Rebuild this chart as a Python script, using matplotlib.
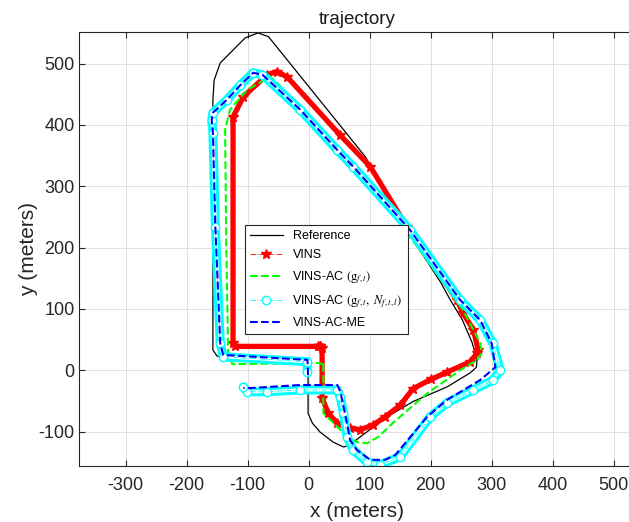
import matplotlib.pyplot as plt
import numpy as np

plt.rcParams['font.family'] = ['Liberation Sans', 'DejaVu Sans']
plt.rcParams['mathtext.fontset'] = 'stix'
plt.rcParams['axes.unicode_minus'] = False

# Reference trajectory
ref_x = [-1, -1, 6, 19, 40, 57, 65, 84, 125, 171, 227, 265, 275, 276, 268, 252, 232, 216,
         150, 93, -66, -83, -104, -145, -155, -157, -157, -150, -129, -1]
ref_y = [12, -70, -86, -101, -117, -125, -123, -109, -78, -51, -27, -4, 5, 17, 45, 82, 115, 144,
         245, 348, 544, 550, 542, 501, 473, 441, 33, 23, 20, 14]

# VINS
vins_x = [19, 22, 22, 32, 47, 68, 84, 106, 125, 150, 171, 200, 227, 265, 276, 278, 270, 253,
          243, 161, 101, 52, -35, -52, -68, -107, -124, -124, -120, 16, 19]
vins_y = [40, 36, -45, -70, -86, -94, -97, -89, -76, -57, -30, -15, -3, 14, 28, 33, 66, 93,
          115, 234, 332, 383, 478, 487, 482, 446, 413, 44, 39, 39, 40]

# VINS-AC (g)
ac_x = [24, 24, 47, 63, 79, 96, 115, 139, 194, 248, 276, 284, 281, 270, 253, 150, 68, -30,
        -52, -63, -101, -129, -137, -135, -132, -125, 16, 24]
ac_y = [10, -70, -92, -109, -117, -119, -108, -85, -38, 0, 17, 28, 45, 66, 98, 240, 338, 446,
        469, 479, 457, 425, 392, 200, 28, 10, 12, 10]

# VINS-AC (g, N)
acn_x = [-2.5, -2, -140, -145, -153, -157, -159, -157, -134, -112, -91, -76, -14, 47, 73, 166,
         248, 281, 302, 314, 302, 270, 227, 199, 150, 117, 96, 73, 63, 57, 52, 47, -14, -68,
         -101, -107]
acn_y = [-3, 14, 22, 44, 234, 387, 408, 420, 441, 465, 485, 482, 425, 359, 332, 229,
         115, 82, 44, 0, -16, -32, -53, -76, -141, -154, -150, -130, -109, -70, -44, -32, -32, -35,
         -35, -27]

# VINS-AC-ME
me_x = [-1, -2, -140, -145, -153, -157, -159, -157, -134, -112, -91, -76, -14, 47, 73, 166,
        248, 281, 300, 306, 281, 227, 194, 142, 125, 101, 79, 68, 60, 52, 47, -14, -96, -107]
me_y = [-8, 17, 25, 44, 234, 387, 408, 420, 441, 465, 485, 482, 425, 359, 332, 229,
        115, 82, 44, 5, -16, -48, -76, -138, -146, -146, -130, -114, -73, -35, -24, -24, -29, -29]

fig = plt.figure(figsize=(6.29, 5.22), dpi=100)
ax = fig.add_axes([0.1261, 0.1073, 0.8835, 0.8308])

h_ref, = ax.plot(ref_x, ref_y, 'k-', lw=0.9, label='Reference')

# dense star trail look
ax.plot(vins_x, vins_y, color='r', lw=3.8, solid_joinstyle='round', solid_capstyle='round')
h_vins, = ax.plot(vins_x, vins_y, 'r-.', lw=0.6, marker='*', ms=7, label='VINS')

h_ac, = ax.plot(ac_x, ac_y, '--', color=(0, 1, 0), lw=1.5,
                label=r'VINS-AC $(\mathrm{g}_{f,t})$')

# dense circle trail look
ax.plot(acn_x, acn_y, color=(0, 1, 1), lw=6.5, solid_joinstyle='round', solid_capstyle='round')
ax.plot(acn_x, acn_y, color='white', lw=2.2, solid_joinstyle='round')
h_acn, = ax.plot(acn_x, acn_y, '-.', color=(0, 1, 1), lw=0.6, marker='o', ms=6,
                 mfc='white', label=r'VINS-AC $(\mathrm{g}_{f,t},\ N_{f,t,l})$')

h_me, = ax.plot(me_x, me_y, '--', color=(0, 0, 1), lw=1.5, label='VINS-AC-ME')

ax.set_xlim(-376, 535)
ax.set_ylim(-156, 551)
ax.set_xticks(np.arange(-300, 501, 100))
ax.set_yticks(np.arange(-100, 501, 100))
ax.tick_params(direction='in', top=True, right=True, labelsize=13, length=4,
               colors='#262626', width=0.8)
ax.tick_params(axis='x', pad=8)
ax.grid(True, color='#dcdcdc', lw=0.6)
ax.set_axisbelow(True)
for s in ax.spines.values():
    s.set_color('#262626')
    s.set_linewidth(0.8)

ax.set_title('trajectory', fontsize=13.5, color='#1a1a1a', pad=6)
ax.set_xlabel('x (meters)', fontsize=15, color='#262626', labelpad=6)
ax.set_ylabel('y (meters)', fontsize=15, color='#262626', labelpad=0)

leg = ax.legend(handles=[h_ref, h_vins, h_ac, h_acn, h_me], loc='upper left',
                bbox_to_anchor=(245 / 629, 1 - 225 / 522), bbox_transform=fig.transFigure,
                borderaxespad=0, fontsize=9, fancybox=False, framealpha=1,
                edgecolor='#262626', handlelength=2.6, labelspacing=0.6, numpoints=1)
leg.get_frame().set_linewidth(0.8)

plt.savefig('out.png', dpi=100)
